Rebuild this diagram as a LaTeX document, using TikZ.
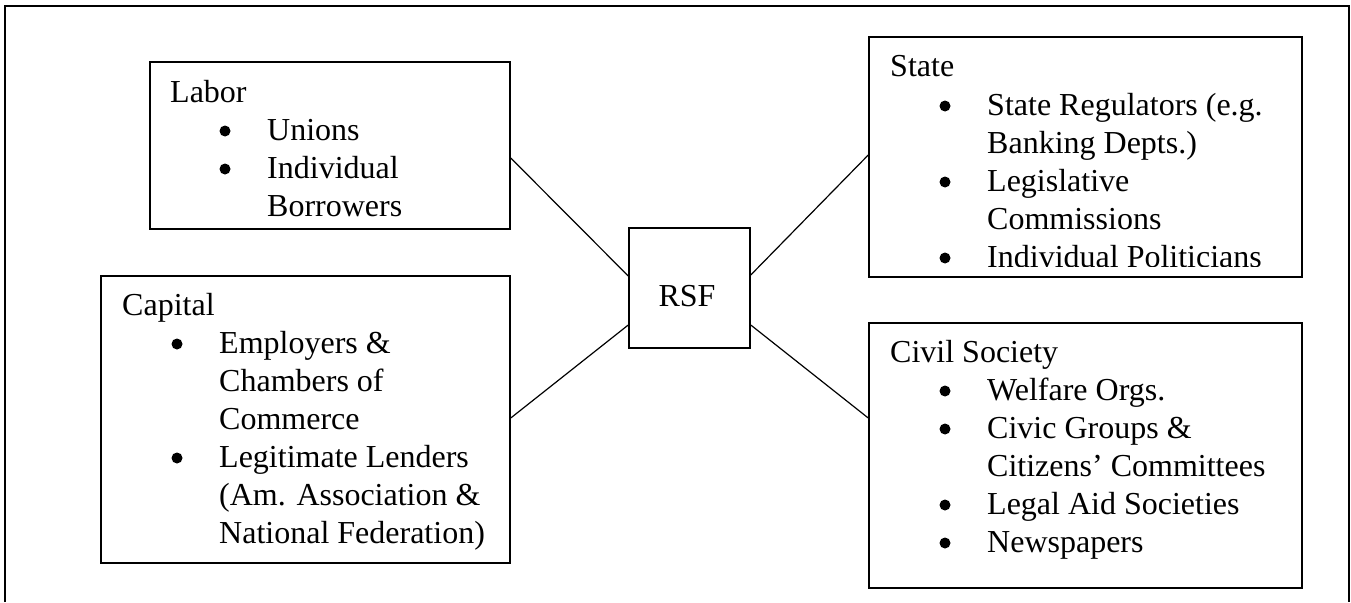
\documentclass[tikz,border=0pt]{standalone}
\usepackage{fontspec}
\setmainfont{Liberation Serif}
\begin{document}
\begin{tikzpicture}[x=1pt,y=-1pt,
  box/.style={draw, line width=1.5pt, inner sep=0pt},
  link/.style={line width=1.2pt},
  txt/.style={anchor=base west, inner sep=0pt, font=\fontsize{32}{38}\selectfont},
  bul/.style={circle, fill, inner sep=0pt, minimum size=11pt}]
\useasboundingbox (0,0) rectangle (1351,602);
% outer frame (open at the bottom)
\draw[line width=1.5pt] (5,602) -- (5,6) -- (1349,6) -- (1349,602);

% boxes
\node[box, minimum width=360pt, minimum height=167pt] (labor) at (330,145.5) {};
\node[box, minimum width=409pt, minimum height=287pt] (capital) at (305.5,419.5) {};
\node[box, minimum width=121pt, minimum height=120pt] (rsf) at (689.5,288) {};
\node[box, minimum width=433pt, minimum height=240pt] (state) at (1085.5,157) {};
\node[box, minimum width=433pt, minimum height=265pt] (civil) at (1085.5,455.5) {};

% connectors
\draw[link] ([yshift=-12.5pt]labor.east) -- ([yshift=12pt]rsf.west);
\draw[link] ([yshift=1.5pt]capital.east) -- ([yshift=-37pt]rsf.west);
\draw[link] ([yshift=13pt]rsf.east) -- ([yshift=2pt]state.west);
\draw[link] ([yshift=-37pt]rsf.east) -- ([yshift=37.5pt]civil.west);

% RSF
\node[txt, anchor=base] (rsft) at (687,306) {RSF};

% Labor
\node[txt] (l0) at (170,102) {Labor};
\node[bul] (lb1) at (225,131) {};
\node[txt] (l1) at (267,140) {Unions};
\node[bul] (lb2) at (225,169) {};
\node[txt] (l2) at (267,178) {Individual};
\node[txt] (l3) at (267,216) {Borrowers};

% Capital
\node[txt] (c0) at (122,315) {Capital};
\node[bul] (cb1) at (177,344) {};
\node[txt] (c1) at (219,353) {Employers \&};
\node[txt] (c2) at (219,391) {Chambers of};
\node[txt] (c3) at (219,429) {Commerce};
\node[bul] (cb2) at (177,458) {};
\node[txt] (c4) at (219,467) {Legitimate Lenders};
\node[txt] (c5) at (219,505) {(Am. Association \&};
\node[txt] (c6) at (219,543) {National Federation)};

% State
\node[txt] (s0) at (890,77) {State};
\node[bul] (sb1) at (945,106) {};
\node[txt] (s1) at (987,115) {State Regulators (e.g.};
\node[txt] (s2) at (987,153) {Banking Depts.)};
\node[bul] (sb2) at (945,182) {};
\node[txt] (s3) at (987,191) {Legislative};
\node[txt] (s4) at (987,229) {Commissions};
\begin{scope}
\clip (860,230) rectangle (1300,266.5);
\node[bul] (sb3) at (945,258) {};
\node[txt] (s5) at (987,267) {Individual Politicians};
\end{scope}

% Civil Society
\node[txt] (v0) at (890,362) {Civil Society};
\node[bul] (vb1) at (945,391) {};
\node[txt] (v1) at (987,400) {Welfare Orgs.};
\node[bul] (vb2) at (945,429) {};
\node[txt] (v2) at (987,438) {Civic Groups \&};
\node[txt] (v3) at (987,476) {Citizens’ Committees};
\node[bul] (vb3) at (945,505) {};
\node[txt] (v4) at (987,514) {Legal Aid Societies};
\node[bul] (vb4) at (945,543) {};
\node[txt] (v5) at (987,552) {Newspapers};
\end{tikzpicture}
\end{document}
